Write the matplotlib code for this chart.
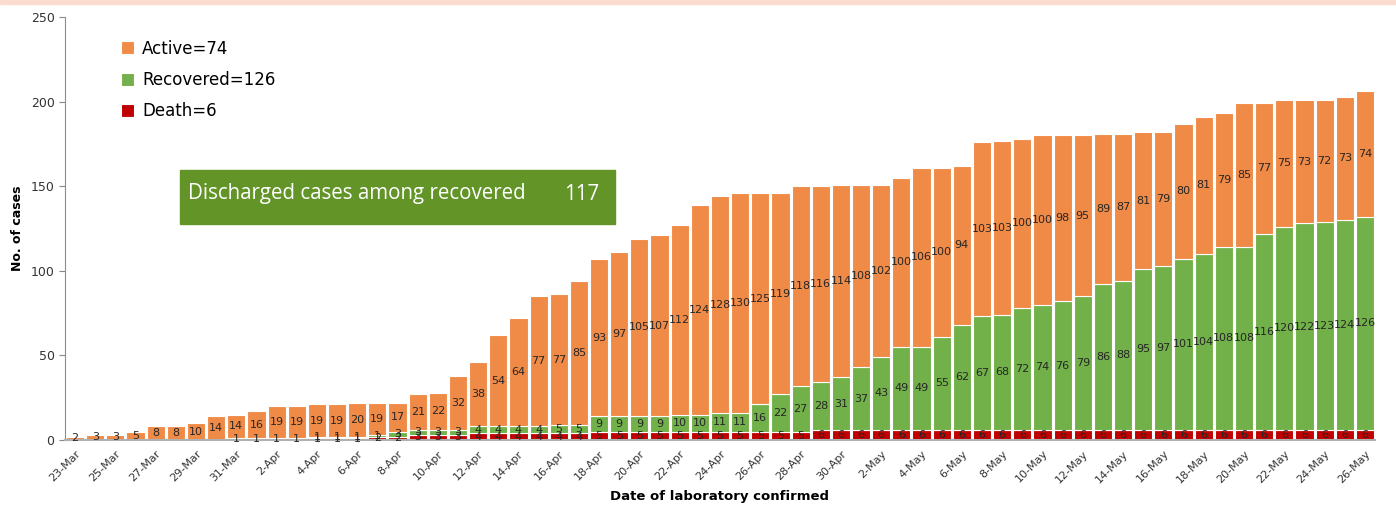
import numpy as np
import matplotlib
matplotlib.use("Agg")
import matplotlib.pyplot as plt
import matplotlib.patches as mpatches
import pandas as pd

# 23-Mar .. 26-May
dates = pd.date_range("2020-03-23", "2020-05-26", freq="D")
date_labels = [f"{d.day}-{d.strftime('%b')}" for d in dates]

death = [0, 0, 0, 0, 0, 0, 0, 0, 1, 1, 1, 1, 1, 1, 1, 2, 2, 3, 3, 3,
         4, 4, 4, 4, 4, 4, 5, 5, 5, 5, 5, 5, 5, 5, 5, 5, 5, 6, 6, 6,
         6, 6, 6, 6, 6, 6, 6, 6, 6, 6, 6, 6, 6, 6, 6, 6, 6, 6, 6, 6,
         6, 6, 6, 6, 6]
recovered = [0, 0, 0, 0, 0, 0, 0, 0, 0, 0, 0, 0, 1, 1, 1, 1, 3, 3, 3, 3,
             4, 4, 4, 4, 5, 5, 9, 9, 9, 9, 10, 10, 11, 11, 16, 22, 27, 28, 31, 37,
             43, 49, 49, 55, 62, 67, 68, 72, 74, 76, 79, 86, 88, 95, 97, 101, 104, 108, 108, 116,
             120, 122, 123, 124, 126]
active = [2, 3, 3, 5, 8, 8, 10, 14, 14, 16, 19, 19, 19, 19, 20, 19, 17, 21, 22, 32,
          38, 54, 64, 77, 77, 85, 93, 97, 105, 107, 112, 124, 128, 130, 125, 119, 118, 116, 114, 108,
          102, 100, 106, 100, 94, 103, 103, 100, 100, 98, 95, 89, 87, 81, 79, 80, 81, 79, 85, 77,
          75, 73, 72, 73, 74]

discharged = 117

c_active = "#F08A47"
c_recov = "#72B04A"
c_death = "#C00000"
c_box = "#629428"

death = np.array(death)
recovered = np.array(recovered)
active = np.array(active)
x = np.arange(len(dates))

fig = plt.figure(figsize=(13.96, 5.07), dpi=100)
fig.patches.append(mpatches.Rectangle((0, 1 - 4 / 507), 1, 4 / 507, transform=fig.transFigure,
                                      color="#FDDCD0", zorder=0))
ax = fig.add_axes([65 / 1396, 1 - 440 / 507, 1310 / 1396, 423 / 507])

w = 0.9
b1 = ax.bar(x, death, w, color=c_death, edgecolor="white", linewidth=0.8, label="Death=6")
b2 = ax.bar(x, recovered, w, bottom=death, color=c_recov, edgecolor="white", linewidth=0.8,
            label="Recovered=126")
b3 = ax.bar(x, active, w, bottom=death + recovered, color=c_active, edgecolor="white",
            linewidth=0.8, label="Active=74")

# data labels in the middle of each segment (small ones overlap, as in the source)
for i in x:
    segs = [(death[i], 0), (recovered[i], death[i]), (active[i], death[i] + recovered[i])]
    for val, base in segs:
        if val > 0:
            ax.text(i, base + val / 2, str(val), ha="center", va="center",
                    fontsize=8, color="#262626")

ax.set_xlim(-0.5, len(x) - 0.5)
ax.set_ylim(0, 250)
ax.set_yticks(np.arange(0, 251, 50))
ax.set_xticks(x[::2])
ax.set_xticklabels(date_labels[::2], rotation=45, ha="right", rotation_mode="anchor",
                   fontsize=8, color="#333333")
ax.tick_params(axis="x", length=0, pad=6)
ax.tick_params(axis="y", length=4, color="#888888", labelsize=9, labelcolor="#333333")

for s in ["top", "right"]:
    ax.spines[s].set_visible(False)
ax.spines["left"].set_color("#8c8c8c")
ax.spines["bottom"].set_color("#b0b0b0")
ax.spines["bottom"].set_linewidth(1.5)

ax.set_ylabel("No. of cases", fontsize=9, fontweight="bold", labelpad=5)
ax.set_xlabel("Date of laboratory confirmed", fontsize=9.5, fontweight="bold", labelpad=4)

ax.legend(handles=[b3, b2, b1], loc="upper left", bbox_to_anchor=(0.031, 0.982),
          frameon=False, fontsize=12, handlelength=0.8, handleheight=0.8,
          handletextpad=0.5, labelspacing=0.8)

# discharged box
fig.patches.append(mpatches.Rectangle((180 / 1396, 1 - 224 / 507), 435 / 1396, 54 / 507,
                                      transform=fig.transFigure, color=c_box, zorder=5))
fig.text(188 / 1396, 1 - 194 / 507, "Discharged cases among recovered", family="Open Sans",
         fontsize=14.8, color="white", va="center", ha="left", zorder=6)
fig.text(599 / 1396, 1 - 194 / 507, str(discharged), family="Open Sans",
         fontsize=14.8, color="white", va="center", ha="right", zorder=6)

fig.savefig("out.png", dpi=100)
